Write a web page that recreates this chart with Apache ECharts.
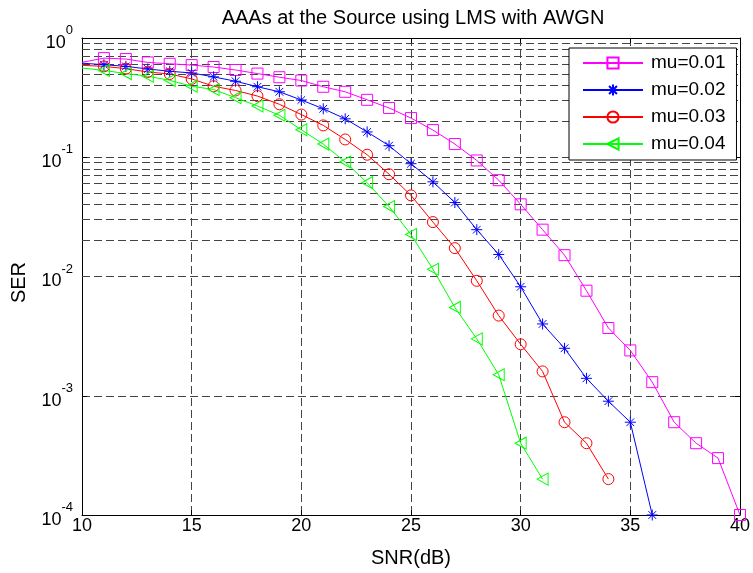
<!DOCTYPE html>
<html>
<head>
<meta charset="utf-8">
<script src="https://cdn.jsdelivr.net/npm/echarts@6/dist/echarts.min.js"></script>
<style>
html,body{margin:0;padding:0;background:#fff;}
#chart{width:753px;height:573px;}
</style>
</head>
<body>
<div id="chart"></div>
<script>
// ---- data (SNR starts at 10 dB, step 1 dB) ----
const snrStart = 10;
const seriesNames = ['mu=0.01', 'mu=0.02', 'mu=0.03', 'mu=0.04'];
const serMu001 = [0.625, 0.678, 0.666, 0.624, 0.608, 0.593, 0.571, 0.539, 0.503, 0.469, 0.440, 0.390, 0.354, 0.303, 0.259, 0.213, 0.169, 0.129, 0.094, 0.0642, 0.0403, 0.0247, 0.0151, 0.0076, 0.0037, 0.0024, 0.0013, 0.0006, 0.0004, 0.0003, 0.0001];
const serMu002 = [0.615, 0.597, 0.578, 0.550, 0.526, 0.509, 0.472, 0.434, 0.390, 0.354, 0.302, 0.255, 0.210, 0.163, 0.125, 0.0883, 0.0622, 0.0417, 0.0247, 0.0153, 0.0082, 0.0040, 0.0025, 0.0014, 0.0009, 0.0006, 0.0001];
const serMu003 = [0.590, 0.578, 0.553, 0.519, 0.499, 0.454, 0.394, 0.363, 0.326, 0.278, 0.228, 0.185, 0.141, 0.105, 0.072, 0.0479, 0.0286, 0.0173, 0.0092, 0.0047, 0.0027, 0.0016, 0.0006, 0.0004, 0.0002];
const serMu004 = [0.560, 0.535, 0.503, 0.478, 0.442, 0.394, 0.370, 0.316, 0.269, 0.225, 0.170, 0.129, 0.0912, 0.0612, 0.0386, 0.0225, 0.0115, 0.0055, 0.0030, 0.0015, 0.0004, 0.0002];
const xTicks = [10, 15, 20, 25, 30, 35, 40];
const yDecades = [-4, -3, -2, -1, 0];
const minorMultipliers = [2, 3, 4, 5, 6, 7, 8, 9];

const colors = ['#FF00FF', '#0000FF', '#FF0000', '#00FF00'];
const symbols = [
  'rect',
  'path://M6,0L6,12M0,6L12,6M1.8,1.8L10.2,10.2M1.8,10.2L10.2,1.8',
  'circle',
  'path://M0,6L11,0L11,12Z'
];
const symbolSizes = [11, 11, 11, [11, 12]];
const allValues = [serMu001, serMu002, serMu003, serMu004];

const FONT = "'Liberation Sans', Arial, Helvetica, sans-serif";
const gridDash = [8, 4];
const gridColor = '#444444';

const minorGridValues = [];
yDecades.slice(0, -1).forEach(function (e) {
  minorMultipliers.forEach(function (m) { minorGridValues.push(m * Math.pow(10, e)); });
});

function buildData(vals) {
  return vals.map(function (v, i) {
    const item = { value: [snrStart + i, v] };
    if (i === 0) item.symbol = 'none';
    return item;
  });
}

const series = allValues.map(function (vals, k) {
  return {
    name: seriesNames[k],
    type: 'line',
    data: buildData(vals),
    symbol: symbols[k],
    symbolSize: symbolSizes[k],
    showAllSymbol: true,
    lineStyle: { color: colors[k], width: 1 },
    itemStyle: { color: 'rgba(0,0,0,0)', borderColor: colors[k], borderWidth: 1 },
    emphasis: { disabled: true },
    z: 3,
    animation: false
  };
});

series.push({
  name: 'minorGrid',
  type: 'line',
  data: [],
  silent: true,
  z: 1,
  animation: false,
  markLine: {
    silent: true,
    z: 1,
    animation: false,
    symbol: ['none', 'none'],
    label: { show: false },
    lineStyle: { type: gridDash, color: gridColor, width: 1 },
    emphasis: { disabled: true },
    data: minorGridValues.map(function (v) { return { yAxis: v }; })
  }
});

const yLabel = {
  fontFamily: FONT,
  color: '#000',
  margin: 9,
  formatter: function (v) {
    const e = Math.round(Math.log10(v));
    return '{b|10}{s|' + e + '}';
  },
  rich: {
    b: { fontSize: 18, lineHeight: 28, verticalAlign: 'bottom', fontFamily: FONT, color: '#000' },
    s: { fontSize: 13, lineHeight: 13, verticalAlign: 'top', fontFamily: FONT, color: '#000' }
  }
};

const option = {
  backgroundColor: '#fff',
  animation: false,
  title: {
    text: 'AAAs at the Source using LMS with AWGN',
    left: 413,
    top: 8,
    padding: 0,
    textAlign: 'center',
    textStyle: { fontFamily: FONT, fontSize: 20, fontWeight: 'normal', color: '#000' }
  },
  legend: {
    data: seriesNames,
    orient: 'vertical',
    left: 569,
    top: 48,
    padding: [5, 11, 6, 13],
    itemWidth: 60,
    itemHeight: 14,
    itemGap: 7,
    backgroundColor: '#fff',
    borderColor: '#000',
    borderWidth: 1,
    borderRadius: 0,
    selectedMode: false,
    textStyle: { fontFamily: FONT, fontSize: 19, lineHeight: 20, color: '#000', padding: [0, 0, 0, 3] }
  },
  grid: { left: 82, right: 8, top: 38, bottom: 53, containLabel: false },
  xAxis: [
    {
      type: 'value', min: 10, max: 40, interval: 5,
      name: 'SNR(dB)', nameLocation: 'middle', nameGap: 33,
      nameTextStyle: { fontFamily: FONT, fontSize: 20, color: '#000' },
      axisLine: { show: true, onZero: false, lineStyle: { color: '#000', width: 1 } },
      axisTick: { show: true, inside: true, length: 5, lineStyle: { color: '#000' } },
      axisLabel: {
        fontFamily: FONT, fontSize: 18, lineHeight: 16, color: '#000', margin: 3,
        formatter: function (v) { return xTicks.indexOf(v) >= 0 ? String(v) : ''; },
        showMinLabel: true, showMaxLabel: true
      },
      splitLine: { show: true, lineStyle: { type: gridDash, color: gridColor, width: 1 } }
    },
    {
      type: 'value', min: 10, max: 40, interval: 5, position: 'top',
      axisLine: { show: true, onZero: false, lineStyle: { color: '#000', width: 1 } },
      axisTick: { show: true, inside: true, length: 5, lineStyle: { color: '#000' } },
      axisLabel: { show: false },
      splitLine: { show: false }
    }
  ],
  yAxis: [
    {
      type: 'log', logBase: 10, min: 0.0001, max: 1,
      name: 'SER', nameLocation: 'middle', nameGap: 53, nameRotate: 90,
      nameTextStyle: { fontFamily: FONT, fontSize: 20, color: '#000', padding: [0, 12, 0, 0] },
      axisLine: { show: true, onZero: false, lineStyle: { color: '#000', width: 1 } },
      axisTick: { show: true, inside: true, length: 5, lineStyle: { color: '#000' } },
      axisLabel: yLabel,
      splitLine: { show: true, lineStyle: { type: gridDash, color: gridColor, width: 1 } }
    },
    {
      type: 'log', logBase: 10, min: 0.0001, max: 1, position: 'right',
      axisLine: { show: true, onZero: false, lineStyle: { color: '#000', width: 1 } },
      axisTick: { show: true, inside: true, length: 5, lineStyle: { color: '#000' } },
      axisLabel: { show: false },
      splitLine: { show: false }
    }
  ],
  series: series
};

const chart = echarts.init(document.getElementById('chart'), null, { renderer: 'canvas' });
chart.setOption(option);
</script>
</body>
</html>
